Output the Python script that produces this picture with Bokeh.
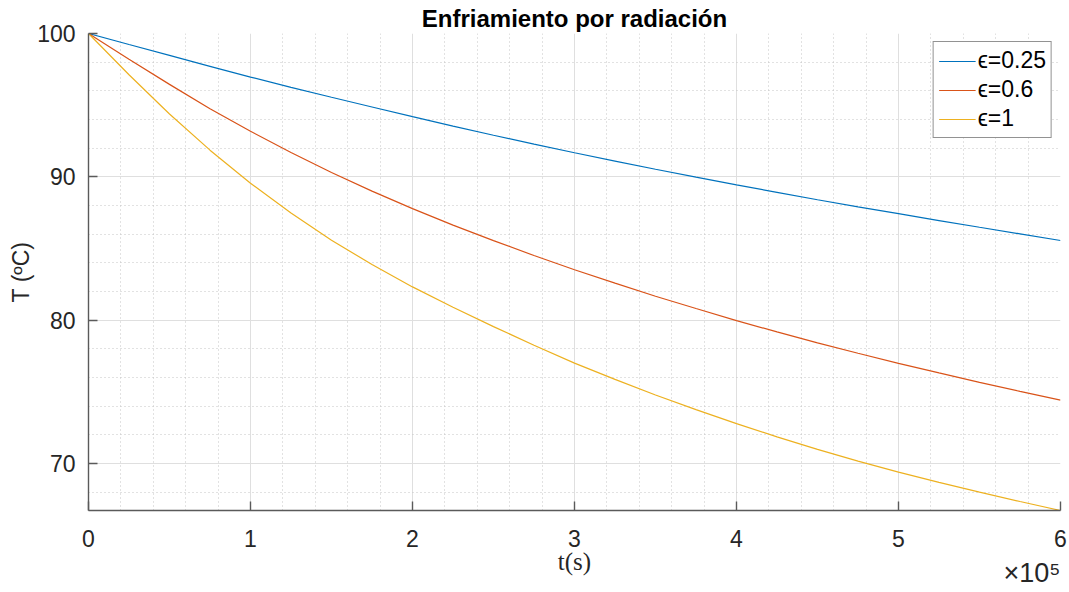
from bokeh.plotting import figure
from bokeh.models import Range1d, FixedTicker, Legend, LegendItem, Title
from bokeh.embed import file_html
from bokeh.resources import INLINE
import numpy as np

# ---- data ----
t_s = [0, 0.25e5, 0.5e5, 0.75e5, 1e5, 1.25e5, 1.5e5, 1.75e5, 2e5, 2.25e5, 2.5e5, 2.75e5,
       3e5, 3.25e5, 3.5e5, 3.75e5, 4e5, 4.25e5, 4.5e5, 4.75e5, 5e5, 5.25e5, 5.5e5, 5.75e5, 6e5]
T_eps025 = [100, 99.23, 98.47, 97.71, 96.96, 96.24, 95.55, 94.87, 94.20, 93.54, 92.90, 92.28,
            91.68, 91.10, 90.53, 89.98, 89.44, 88.92, 88.40, 87.91, 87.43, 86.95, 86.48, 86.02, 85.56]
T_eps06 = [100, 98.20, 96.45, 94.75, 93.18, 91.70, 90.30, 89.00, 87.78, 86.63, 85.55, 84.51,
           83.52, 82.58, 81.67, 80.81, 79.97, 79.18, 78.42, 77.69, 76.99, 76.32, 75.66, 75.03, 74.42]
T_eps1 = [100, 97.12, 94.38, 91.86, 89.55, 87.48, 85.58, 83.88, 82.32, 80.90, 79.55, 78.25,
          77.00, 75.87, 74.78, 73.76, 72.78, 71.86, 70.98, 70.17, 69.40, 68.68, 68.00, 67.35, 66.72]
series_labels = ["ϵ=0.25", "ϵ=0.6", "ϵ=1"]
series_colors = ["#0072BD", "#D95319", "#EDB120"]
x_ticks = [0, 1e5, 2e5, 3e5, 4e5, 5e5, 6e5]
x_tick_labels = ["0", "1", "2", "3", "4", "5", "6"]
y_ticks = [70, 80, 90, 100]
x_multiplier = "×10⁵"

FONT = "Liberation Sans"
TXT = "#262626"

p = figure(width=1069, height=592, output_backend="svg", toolbar_location=None,
           x_range=Range1d(0, 6e5), y_range=Range1d(66.72, 100),
           min_border_left=88, min_border_right=9, min_border_top=33, min_border_bottom=82,
           background_fill_color="white", border_fill_color="white")
p.outline_line_color = None

p.title.text = "Enfriamiento por radiación"
p.title.align = "center"
p.title.text_font = FONT
p.title.text_font_size = "24px"
p.title.text_font_style = "bold"
p.title.text_color = "#000000"
p.title.text_line_height = 1.0
p.title.offset = 0
p.title.standoff = 4

x_minor = [v for v in np.arange(0, 6e5 + 1, 0.2e5) if v not in x_ticks]
y_minor = [v for v in np.arange(66, 100.1, 2) if v not in y_ticks]
p.xaxis.ticker = FixedTicker(ticks=x_ticks, minor_ticks=x_minor)
p.yaxis.ticker = FixedTicker(ticks=y_ticks, minor_ticks=y_minor)
p.xaxis.major_label_overrides = {v: s for v, s in zip(x_ticks, x_tick_labels)}

for ax in (p.xaxis[0], p.yaxis[0]):
    ax.axis_line_color = "#5a5a5a"
    ax.axis_line_width = 1.4
    ax.major_tick_line_color = "#5a5a5a"
    ax.major_tick_line_width = 1.4
    ax.major_tick_in = 9
    ax.major_tick_out = 0
    ax.minor_tick_line_color = None
    ax.major_label_text_font = FONT
    ax.major_label_text_font_size = "23px"
    ax.major_label_text_color = TXT

p.yaxis.major_label_standoff = 9
p.xaxis.major_label_standoff = 15
p.yaxis.axis_label = "T (ºC)"
p.yaxis.axis_label_text_font = FONT
p.yaxis.axis_label_text_font_size = "23px"
p.yaxis.axis_label_text_font_style = "normal"
p.yaxis.axis_label_text_color = TXT
p.yaxis.axis_label_standoff = 0
p.xaxis.axis_label = "t(s)"
p.xaxis.axis_label_text_font = "Liberation Serif"
p.xaxis.axis_label_text_font_size = "25px"
p.xaxis.axis_label_text_font_style = "normal"
p.xaxis.axis_label_text_color = TXT
p.xaxis.axis_label_standoff = -2

for g in (p.xgrid[0], p.ygrid[0]):
    g.grid_line_color = "#dfdfdf"
    g.grid_line_width = 1
    g.minor_grid_line_color = "#c4c4c4"
    g.minor_grid_line_dash = "1 3"
    g.minor_grid_line_width = 1

renderers = []
for ys, c in zip([T_eps025, T_eps06, T_eps1], series_colors):
    r = p.line(t_s, ys, line_color=c, line_width=1.2)
    renderers.append(r)

legend = Legend(items=[LegendItem(label=l, renderers=[r]) for l, r in zip(series_labels, renderers)],
                location="top_right")
legend.label_text_font = FONT
legend.label_text_font_size = "23px"
legend.label_text_color = "#000000"
legend.glyph_width = 37
legend.glyph_height = 20
legend.label_standoff = 2
legend.spacing = 2
legend.padding = 5
legend.margin = 8
legend.border_line_color = "#262626"
legend.border_line_width = 1
legend.background_fill_color = "white"
legend.background_fill_alpha = 1
p.add_layout(legend)

mult = Title(text=x_multiplier, align="right", vertical_align="top", standoff=-40, offset=0)
mult.text_font = FONT
mult.text_font_size = "27px"
mult.text_font_style = "normal"
mult.text_color = TXT
mult.text_line_height = 1.0
p.add_layout(mult, "below")

open("out.html", "w").write(file_html(p, INLINE))
